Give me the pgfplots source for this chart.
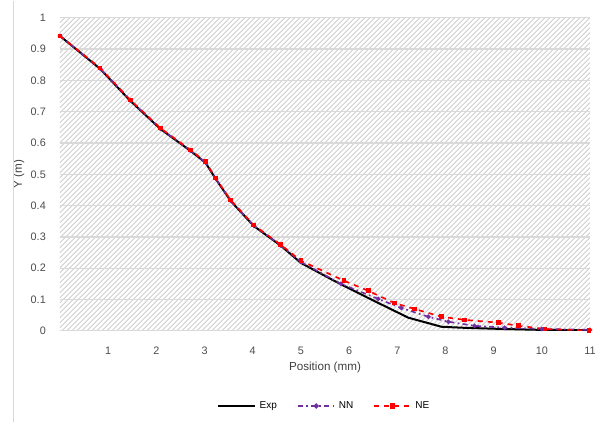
\documentclass[border=0pt]{standalone}
\usepackage{fontspec}
\setmainfont{Liberation Sans}
\usepackage{pgfplots}
\pgfplotsset{compat=1.18}
\usetikzlibrary{patterns}
\definecolor{cpurple}{RGB}{112,48,160}
\definecolor{cred}{RGB}{255,0,0}
\begin{document}
\begin{tikzpicture}
\begin{axis}[
  name=ax, at={(0,0)}, anchor=south west,
  scale only axis, width=318pt, height=187.8pt,
  xmin=0, xmax=11, ymin=0, ymax=1,
  xtick={0,1,...,11}, ytick={0,0.1,...,1.0},
  xticklabels={,1,2,3,4,5,6,7,8,9,10,11},
  yticklabel style={/pgf/number format/fixed},
  /pgf/number format/assume math mode=true,
  ticklabel style={font=\fontsize{6.5}{7.5}\selectfont, text=black!70},
  xticklabel style={yshift=-6pt},
  yticklabel style={xshift=-5pt},
  major tick length=0pt,
  axis line style={draw=none},
  ymajorgrids, grid style={gray!30, line width=0.8pt},
  axis background/.style={pattern=north east lines, pattern color=gray!45},
  xlabel={Position (mm)}, ylabel={Y (m)},
  label style={font=\fontsize{7}{8}\selectfont, text=black!75},
  xlabel style={yshift=2pt},
  ylabel style={yshift=-3pt},
  legend style={at={(0.5,-0.24)}, anchor=center, draw=none, fill=none,
    legend columns=3, font=\fontsize{6}{7}\selectfont,
    /tikz/every even column/.append style={column sep=10pt}},
  legend image post style={scale=1.3},
  legend cell align=left,
]
\addplot[black, line width=1.2pt] coordinates {
(0,0.942) (0.833,0.837) (1.458,0.735) (2.083,0.645) (2.708,0.575) (3.021,0.537)
(3.229,0.486) (3.542,0.415) (4.021,0.335) (4.583,0.272) (5.0,0.217) (5.688,0.160)
(6.396,0.105) (7.229,0.042) (7.917,0.013) (8.333,0.010) (9.167,0.006) (10.0,0.003) (11,0.002)};
\addlegendentry{Exp}
\addplot[cpurple, line width=1pt, dash pattern=on 3pt off 2pt on 1pt off 2pt, mark=*, mark size=0.8pt, mark options={solid}] coordinates {
(0,0.942) (0.833,0.838) (1.458,0.736) (2.083,0.646) (2.708,0.576) (3.021,0.538)
(3.229,0.487) (3.542,0.416) (4.021,0.336) (4.583,0.273) (5.0,0.220) (5.833,0.150)
(6.604,0.102) (7.083,0.073) (7.646,0.045) (8.062,0.029) (8.604,0.016) (9.229,0.010)
(10.0,0.006) (11,0.003)};
\addlegendentry{NN}
\addplot[cred, line width=1pt, dashed, mark=square*, mark size=0.9pt, mark options={solid}] coordinates {
(0,0.942) (0.833,0.840) (1.458,0.738) (2.083,0.648) (2.708,0.578) (3.021,0.540)
(3.229,0.488) (3.542,0.418) (4.021,0.338) (4.583,0.275) (5.0,0.224) (5.896,0.160)
(6.396,0.128) (6.937,0.089) (7.354,0.070) (7.917,0.045) (8.396,0.035) (9.104,0.026)
(9.521,0.016) (10.063,0.006) (10.979,0.001)};
\addlegendentry{NE}
\end{axis}
\pgfresetboundingbox
\path (ax.south west) ++(-36pt,-54.6pt) coordinate (bl) rectangle ++(360pt,252.6pt);
\draw[gray!30, line width=1pt] ([xshift=8pt]bl) -- ++(0,252.6pt);
\end{tikzpicture}
\end{document}
